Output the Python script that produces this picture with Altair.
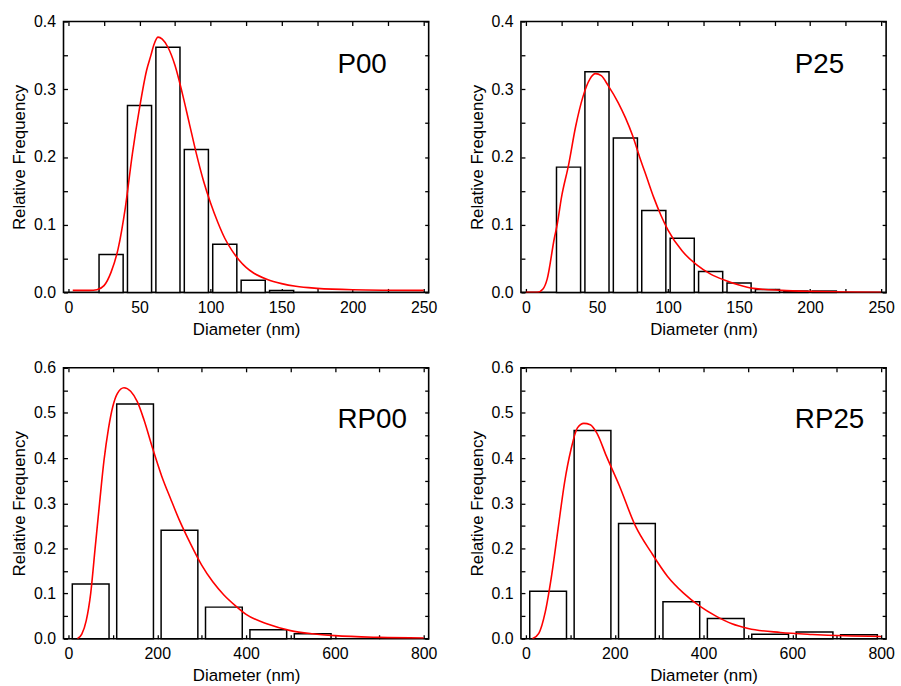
import altair as alt
import pandas as pd

FONT = "Liberation Sans"

# ---------------- data ----------------
p_centers = [30, 50, 70, 90, 110, 130, 150, 170, 190, 210]
p00_freq = [0.056, 0.276, 0.362, 0.211, 0.071, 0.018, 0.003]
p25_freq = [0.185, 0.326, 0.228, 0.121, 0.080, 0.031, 0.014, 0.0044, 0.002, 0.002]

rp_centers = [50, 150, 250, 350, 450, 550, 650, 750]
rp00_freq = [0.121, 0.520, 0.240, 0.070, 0.020, 0.011]
rp25_freq = [0.105, 0.461, 0.255, 0.082, 0.045, 0.010, 0.0147, 0.0088]

p00_fit_x = [3, 15, 20, 25, 30, 35, 40, 45, 50, 55, 58, 60, 63, 66, 70, 75, 80, 85, 90,
             95, 100, 105, 110, 115, 120, 125, 130, 140, 150, 160, 175, 200, 250]
p00_fit_y = [0.003, 0.003, 0.004, 0.01, 0.03, 0.065, 0.125, 0.205, 0.272, 0.328, 0.35,
             0.365, 0.377, 0.374, 0.362, 0.335, 0.295, 0.25, 0.205, 0.165, 0.132, 0.104,
             0.08, 0.062, 0.048, 0.037, 0.029, 0.019, 0.013, 0.009, 0.006, 0.004, 0.003]

p25_fit_x = [0, 8, 12, 15, 20, 22, 25, 30, 35, 40, 45, 49, 53, 58, 65, 70, 75, 80, 85,
             90, 95, 100, 110, 120, 130, 140, 150, 160, 180, 200, 225, 250]
p25_fit_y = [0.0, 0.0, 0.005, 0.02, 0.08, 0.10, 0.14, 0.188, 0.245, 0.288, 0.315, 0.323,
             0.32, 0.305, 0.28, 0.258, 0.232, 0.2, 0.17, 0.14, 0.114, 0.092, 0.061, 0.041,
             0.027, 0.018, 0.011, 0.006, 0.003, 0.0015, 0.0005, 0.0]

rp00_fit_x = [20, 30, 40, 50, 60, 70, 80, 90, 100, 110, 125, 140, 155, 170, 190, 210, 230,
              250, 275, 300, 325, 350, 375, 400, 450, 500, 550, 600, 700, 800]
rp00_fit_y = [0.0, 0.01, 0.04, 0.1, 0.2, 0.3, 0.395, 0.465, 0.515, 0.543, 0.556, 0.548,
              0.525, 0.485, 0.42, 0.36, 0.31, 0.262, 0.21, 0.163, 0.126, 0.097, 0.074,
              0.054, 0.032, 0.018, 0.011, 0.0068, 0.003, 0.0015]

rp25_fit_x = [14.5, 29, 43.5, 58, 72.5, 87, 101.5, 116, 130.5, 145, 159.5, 181, 210, 246.5,
              283, 319, 355, 391.5, 428, 464, 500.5, 573, 645, 718, 800]
rp25_fit_y = [0.0, 0.012, 0.059, 0.141, 0.244, 0.346, 0.419, 0.467, 0.477, 0.474, 0.456,
              0.405, 0.34, 0.25, 0.19, 0.138, 0.101, 0.072, 0.05, 0.033, 0.0227, 0.0139,
              0.0095, 0.0066, 0.005]

p_xticks = [0, 25, 50, 75, 100, 125, 150, 175, 200, 225, 250]
rp_xticks = [0, 100, 200, 300, 400, 500, 600, 700, 800]
p_yticks = [0, 0.05, 0.1, 0.15, 0.2, 0.25, 0.3, 0.35, 0.4]
rp_yticks = [0, 0.05, 0.1, 0.15, 0.2, 0.25, 0.3, 0.35, 0.4, 0.45, 0.5, 0.55, 0.6]

W, H = 368, 273
TL = 4


def panel(name, centers, freqs, fx, fy, xmax, ymax, xticks, xstep, yticks, bar_px, label_y):
    bars_df = pd.DataFrame({"d": centers[:len(freqs)], "f": freqs})
    fit_df = pd.DataFrame({"d": fx, "f": fy})
    xs = alt.Scale(domain=[0, xmax], nice=False, zero=False)
    ys = alt.Scale(domain=[0, ymax], nice=False, zero=False)
    common = dict(domain=False, grid=False, tickSize=TL, offset=-TL, tickColor="black",
                  tickWidth=1.3, labelFont=FONT, labelFontSize=16, labelColor="black",
                  titleFont=FONT, titleFontSize=17, titleFontWeight="normal",
                  titleColor="black")
    x_bottom = alt.Axis(orient="bottom", values=xticks, title="Diameter (nm)",
                        labelExpr=f"datum.value % {xstep} === 0 ? datum.label : ''",
                        labelPadding=7, titlePadding=6, labelFlush=False, **common)
    y_left = alt.Axis(orient="left", values=yticks, title="Relative Frequency",
                      format=".1f",
                      labelExpr="round(datum.value * 100) % 10 === 0 ? datum.label : ''",
                      labelPadding=8, titlePadding=5, labelFlush=False, **common)
    x_top = alt.Axis(orient="top", values=xticks, labels=False, title=None, **common)
    y_right = alt.Axis(orient="right", values=yticks, labels=False, title=None, **common)

    bars = alt.Chart(bars_df).mark_bar(
        size=bar_px, fill="white", stroke="black", strokeWidth=1.5
    ).encode(
        x=alt.X("d:Q", scale=xs, axis=x_bottom),
        y=alt.Y("f:Q", scale=ys, axis=y_left),
    )
    fit = alt.Chart(fit_df).mark_line(
        color="#ff0000", strokeWidth=1.6, interpolate="monotone", clip=True
    ).encode(
        x=alt.X("d:Q", scale=xs, axis=x_top),
        y=alt.Y("f:Q", scale=ys, axis=y_right),
    )
    lab = alt.Chart(pd.DataFrame({"t": [name]})).mark_text(
        align="left", baseline="middle", font=FONT, fontSize=28, color="black"
    ).encode(x=alt.value(276), y=alt.value(label_y), text="t:N")
    return alt.layer(bars, fit, lab).resolve_axis(x="independent", y="independent").properties(
        width=W, height=H
    )


c1 = panel("P00", p_centers, p00_freq, p00_fit_x, p00_fit_y, 250, 0.4, p_xticks, 50,
           p_yticks, 16.5 / 250 * W, 44)
c2 = panel("P25", p_centers, p25_freq, p25_fit_x, p25_fit_y, 250, 0.4, p_xticks, 50,
           p_yticks, 16.5 / 250 * W, 44)
c3 = panel("RP00", rp_centers, rp00_freq, rp00_fit_x, rp00_fit_y, 800, 0.6, rp_xticks, 200,
           rp_yticks, 80.5 / 800 * W, 53)
c4 = panel("RP25", rp_centers, rp25_freq, rp25_fit_x, rp25_fit_y, 800, 0.6, rp_xticks, 200,
           rp_yticks, 80.5 / 800 * W, 53)

chart = alt.concat(
    c1, c2, c3, c4, columns=2,
    spacing=alt.RowColnumber(row=76, column=93), bounds="flush",
).properties(
    padding={"left": 9, "top": 10, "right": 5, "bottom": 5},
    background="white",
).configure_view(stroke="black", strokeWidth=1.6)

chart.save("out.html", embed_options={"renderer": "svg", "actions": False})
